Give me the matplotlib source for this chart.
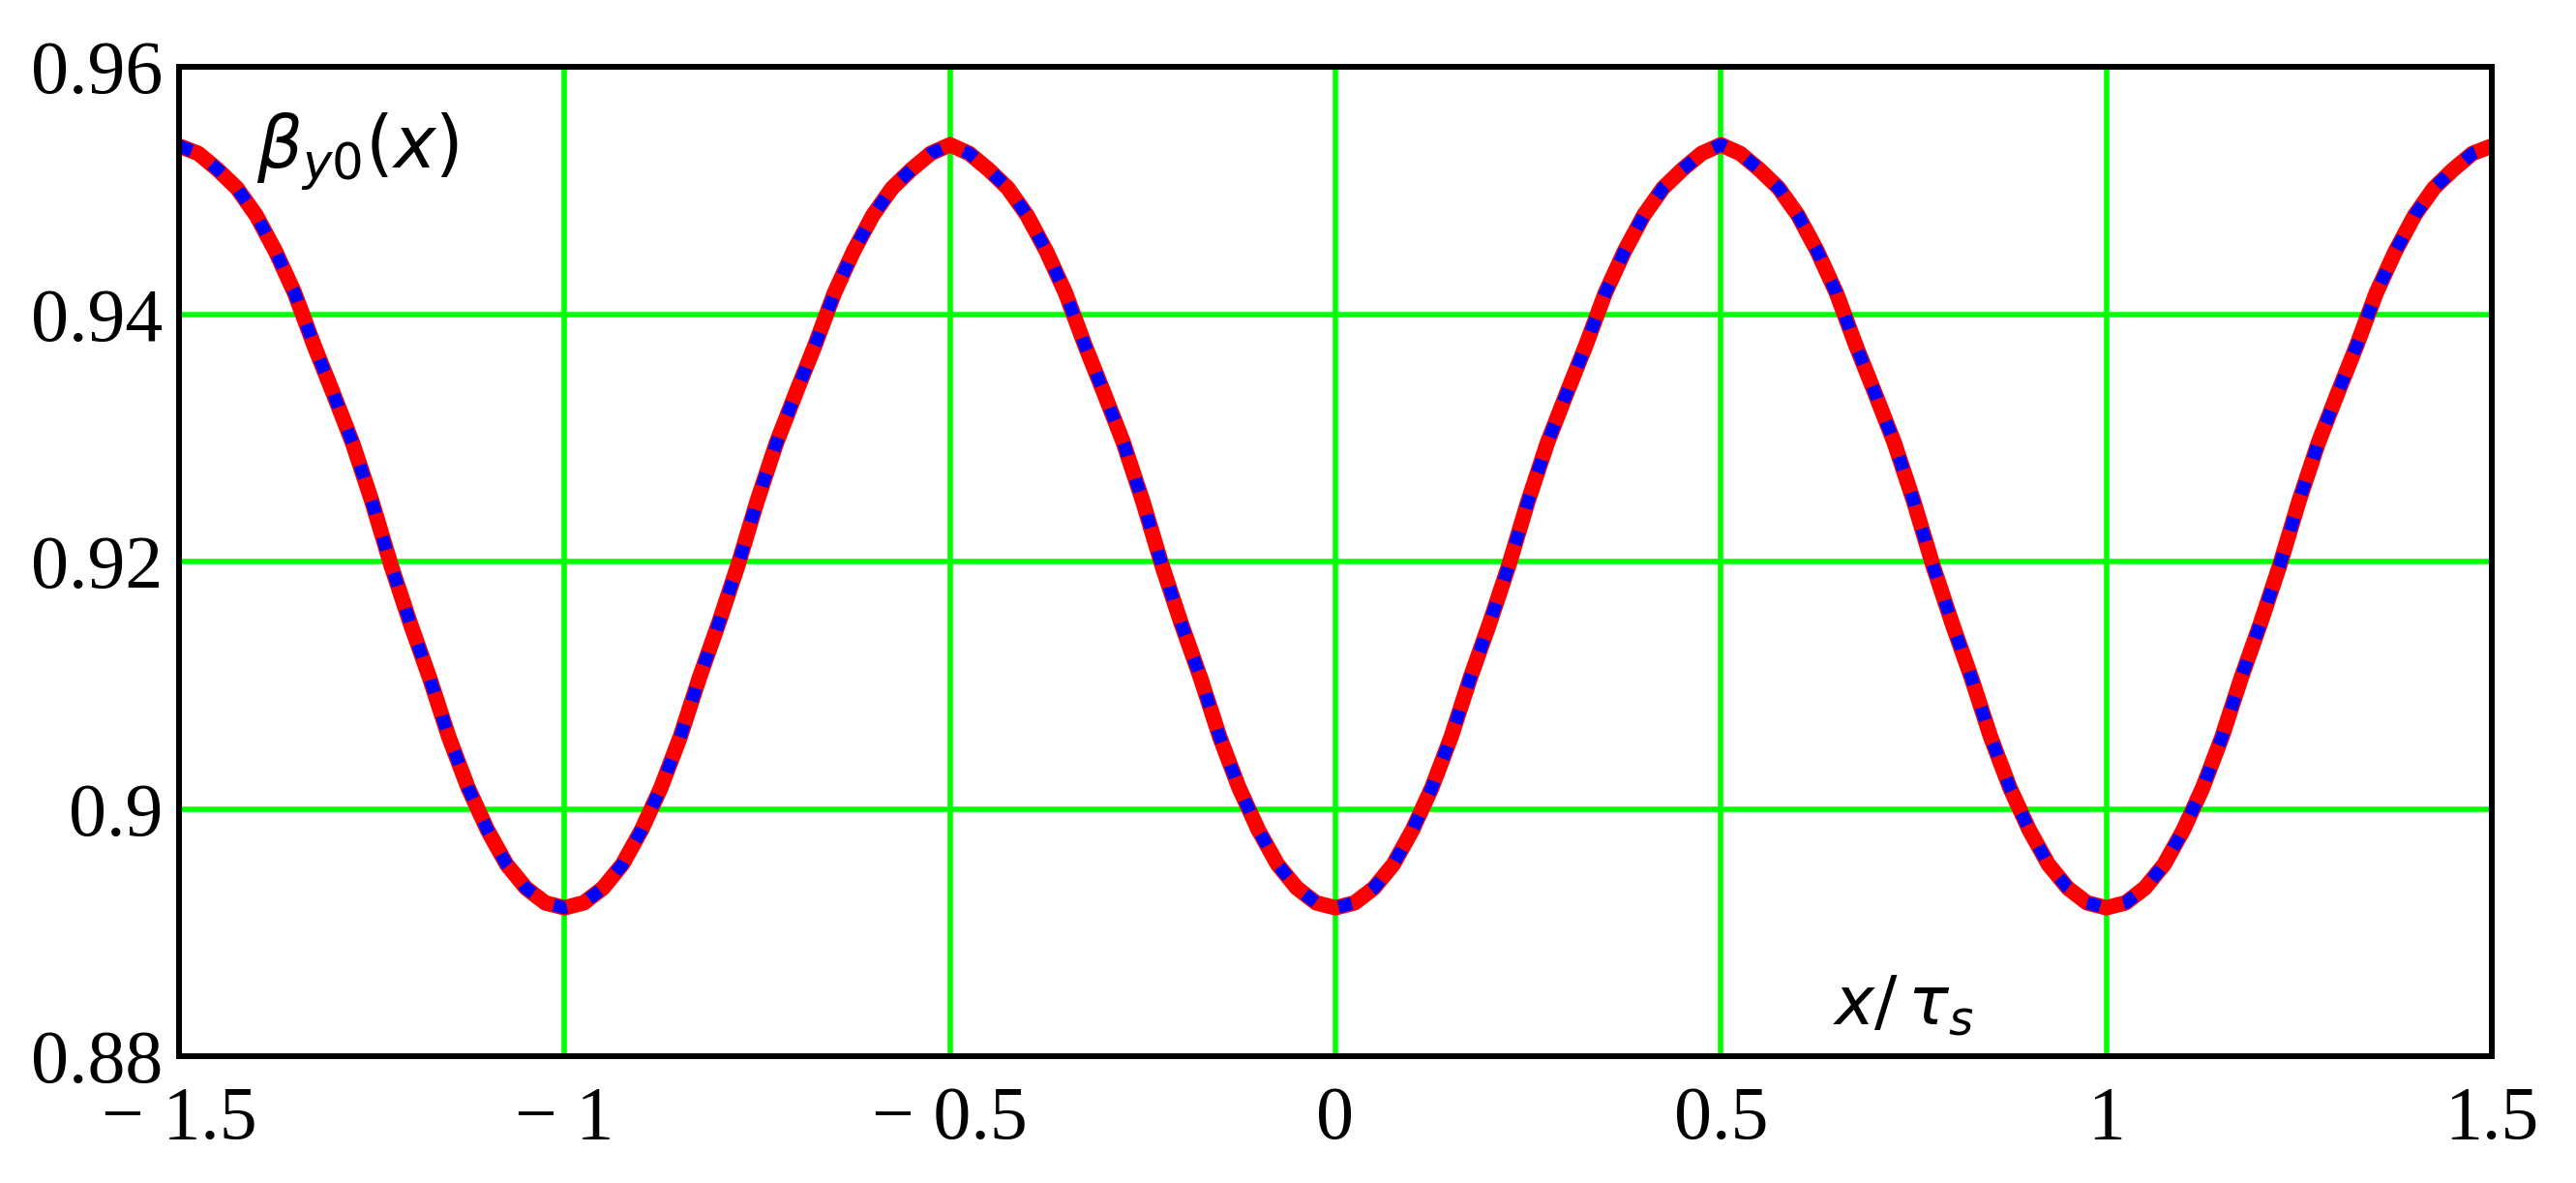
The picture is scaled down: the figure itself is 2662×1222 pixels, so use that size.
import matplotlib
matplotlib.use("Agg")
import matplotlib.pyplot as plt

# x / tau_s sampled every 0.025 from -1.5 to 1.5
x_tau = [round(-1.5 + 0.025 * k, 3) for k in range(121)]

# beta_y0(x) values
beta_exact = [
    0.9536, 0.9530, 0.9517, 0.9502, 0.9480, 0.9451, 0.9417, 0.9375, 0.9336, 0.9296,
    0.9249, 0.9197, 0.9150, 0.9106, 0.9058, 0.9017, 0.8983, 0.8955, 0.8936, 0.8924,
    0.8920,
    0.8924, 0.8936, 0.8955, 0.8983, 0.9017, 0.9058, 0.9106, 0.9150, 0.9197, 0.9249,
    0.9296, 0.9336, 0.9375, 0.9417, 0.9451, 0.9480, 0.9502, 0.9517, 0.9530, 0.9537,
    0.9530, 0.9517, 0.9502, 0.9480, 0.9451, 0.9417, 0.9375, 0.9336, 0.9296, 0.9249,
    0.9197, 0.9150, 0.9106, 0.9058, 0.9017, 0.8983, 0.8955, 0.8936, 0.8924, 0.8920,
    0.8924, 0.8936, 0.8955, 0.8983, 0.9017, 0.9058, 0.9106, 0.9150, 0.9197, 0.9249,
    0.9296, 0.9336, 0.9375, 0.9417, 0.9451, 0.9480, 0.9502, 0.9517, 0.9530, 0.9537,
    0.9530, 0.9517, 0.9502, 0.9480, 0.9451, 0.9417, 0.9375, 0.9336, 0.9296, 0.9249,
    0.9197, 0.9150, 0.9106, 0.9058, 0.9017, 0.8983, 0.8955, 0.8936, 0.8924, 0.8920,
    0.8924, 0.8936, 0.8955, 0.8983, 0.9017, 0.9058, 0.9106, 0.9150, 0.9197, 0.9249,
    0.9296, 0.9336, 0.9375, 0.9417, 0.9451, 0.9480, 0.9502, 0.9517, 0.9530, 0.9536,
]
# the dotted approximation lies on top of the exact curve
beta_approx = list(beta_exact)

x_ticks = [-1.5, -1, -0.5, 0, 0.5, 1, 1.5]
x_labels = ["\u2212 1.5", "\u2212 1", "\u2212 0.5", "0", "0.5", "1", "1.5"]
y_ticks = [0.88, 0.90, 0.92, 0.94, 0.96]
y_labels = ["0.88", "0.9", "0.92", "0.94", "0.96"]

plt.rcParams["mathtext.fontset"] = "dejavusans"

fig = plt.figure(figsize=(26.62, 12.22), dpi=100)
ax = fig.add_axes([0.0695, 0.1072, 0.8978, 0.8363])

ax.plot(x_tau, beta_exact, color="#ff0000", lw=11.5, solid_capstyle="round",
        solid_joinstyle="round", zorder=3)
ax.plot(x_tau, beta_approx, color="#0000ff", lw=9.5, linestyle=(0, (1.05, 1.9)), zorder=4)

ax.set_xlim(-1.5, 1.5)
ax.set_ylim(0.88, 0.96)
ax.set_xticks(x_ticks)
ax.set_xticklabels(x_labels)
ax.set_yticks(y_ticks)
ax.set_yticklabels(y_labels)
for lab in ax.get_xticklabels() + ax.get_yticklabels():
    lab.set_family("Liberation Serif")
    lab.set_fontsize(56)
ax.tick_params(axis="x", length=0, pad=22)
ax.tick_params(axis="y", length=0, pad=12)

ax.grid(True, color="#00ff00", lw=4, zorder=1)
for s in ax.spines.values():
    s.set_linewidth(4.3)
    s.set_color("black")
    s.set_zorder(5)

ax.text(-1.40, 0.9518, r"$\beta_{y0}(x)$", fontsize=53, va="baseline", ha="left")
ax.text(0.645, 0.8826, r"$x/\,\tau_s$", fontsize=50, va="baseline", ha="left")

fig.savefig("out.png", dpi=100)
